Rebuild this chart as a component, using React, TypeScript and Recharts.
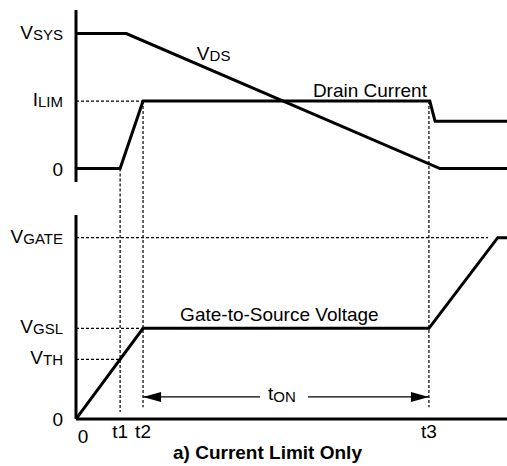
import React from 'react';
import {
  LineChart,
  Line,
  XAxis,
  YAxis,
  ReferenceLine,
  ReferenceDot,
} from 'recharts';

// time axis (arbitrary units, t3 = 80)
const X_MAX = 97.7;
const T1 = 10;
const T2 = 15.2;
const T3 = 80;
const timeTicks = [0, T1, T2, T3];
const timeTickNames = ['0', 't1', 't2', 't3'];

// top panel levels
const topTicks = [0, 1, 2];
const topTickNames = [
  ['0', ''],
  ['I', 'LIM'],
  ['V', 'SYS'],
];

// bottom panel levels
const V_TH = 0.657;
const gateTicks = [0, V_TH, 1, 2];
const gateTickNames = [
  ['0', ''],
  ['V', 'TH'],
  ['V', 'GSL'],
  ['V', 'GATE'],
];

// series
const vdsTime = [0, 11.4, 82.5, X_MAX];
const vdsValue = [2, 2, 0, 0];
const drainTime = [0, T1, T2, 80.2, 81.4, X_MAX];
const drainValue = [0, 0, 1, 1, 0.7, 0.7];
const gateTime = [0, T2, T3, 95.6, X_MAX];
const gateValue = [0, 1, 1, 2, 2];

const zip = (t: number[], v: number[]) => t.map((x, i) => ({ t: x, v: v[i] }));

const vdsData = zip(vdsTime, vdsValue);
const drainData = zip(drainTime, drainValue);
const gateData = zip(gateTime, gateValue);

const FONT = '"Liberation Sans", Arial, Helvetica, sans-serif';
const INK = '#000';

const dashed = {
  stroke: INK,
  strokeWidth: 1.2,
  strokeDasharray: '3 2',
  ifOverflow: 'visible' as const,
};

// y tick with subscript
const makeLevelTick = (ticks: number[], names: string[][]) => (props: any) => {
  const { x, y, payload } = props;
  const idx = ticks.indexOf(payload.value);
  const [main, sub] = names[idx] || [String(payload.value), ''];
  return (
    <text
      x={x}
      y={y + (sub ? 5 : 7)}
      textAnchor="end"
      fontFamily={FONT}
      fontSize={19}
      fill={INK}
    >
      <tspan>{main}</tspan>
      {sub && (
        <tspan fontSize={15} dy={1}>
          {sub}
        </tspan>
      )}
    </text>
  );
};

const TimeTick = (props: any) => {
  const { x, y, payload } = props;
  const idx = timeTicks.indexOf(payload.value);
  const isZero = payload.value === 0;
  return (
    <text
      x={x + (isZero ? 7 : 0)}
      y={y + (isZero ? 22 : 17)}
      textAnchor="middle"
      fontFamily={FONT}
      fontSize={19}
      fill={INK}
    >
      {timeTickNames[idx]}
    </text>
  );
};

const TonArrow = (props: any) => {
  const { x1, y1, x2 } = props;
  const mid = (x1 + x2) / 2;
  return (
    <g>
      <line x1={x1} y1={y1} x2={mid - 26} y2={y1} stroke={INK} strokeWidth={1.3} />
      <line x1={mid + 22} y1={y1} x2={x2} y2={y1} stroke={INK} strokeWidth={1.3} />
      <polygon points={`${x1},${y1} ${x1 + 18},${y1 - 5} ${x1 + 18},${y1 + 5}`} fill={INK} />
      <polygon points={`${x2},${y1} ${x2 - 18},${y1 - 5} ${x2 - 18},${y1 + 5}`} fill={INK} />
      <text x={mid - 18} y={y1 + 3} fontFamily={FONT} fontSize={19} fill={INK}>
        <tspan>t</tspan>
        <tspan fontSize={15} dy={2}>
          ON
        </tspan>
      </text>
    </g>
  );
};

const textMark = (label: string, sub?: string) => (p: any) => (
  <text x={p.cx} y={p.cy} fontFamily={FONT} fontSize={19} fill={INK}>
    <tspan>{label}</tspan>
    {sub && (
      <tspan fontSize={15} dy={1}>
        {sub}
      </tspan>
    )}
  </text>
);

export default function App() {
  return (
    <div
      style={{
        position: 'absolute',
        left: 0,
        top: 0,
        width: 507,
        height: 466,
        background: '#fff',
        fontFamily: FONT,
      }}
    >
      {/* top: VDS and drain current */}
      <div style={{ position: 'absolute', left: 0, top: 0 }}>
        <LineChart
          width={507}
          height={200}
          margin={{ top: 10, right: 0, bottom: 18, left: 0 }}
        >
          <XAxis dataKey="t" type="number" domain={[0, X_MAX]} hide allowDataOverflow />
          <YAxis
            type="number"
            domain={[-0.2, 2.35]}
            ticks={topTicks}
            interval={0}
            width={76}
            allowDataOverflow
            axisLine={{ stroke: INK, strokeWidth: 3 }}
            tickLine={false}
            tickSize={0}
            tickMargin={13}
            tick={makeLevelTick(topTicks, topTickNames)}
          />
          <ReferenceLine segment={[{ x: 0, y: 1 }, { x: T2, y: 1 }]} {...dashed} />
          <ReferenceLine segment={[{ x: T1, y: 0 }, { x: T1, y: -0.47 }]} {...dashed} />
          <ReferenceLine segment={[{ x: T2, y: 1 }, { x: T2, y: -0.47 }]} {...dashed} />
          <ReferenceLine segment={[{ x: T3, y: 1 }, { x: T3, y: -0.47 }]} {...dashed} />
          <Line
            data={vdsData}
            dataKey="v"
            type="linear"
            stroke={INK}
            strokeWidth={3}
            dot={false}
            isAnimationActive={false}
          />
          <Line
            data={drainData}
            dataKey="v"
            type="linear"
            stroke={INK}
            strokeWidth={3}
            dot={false}
            isAnimationActive={false}
          />
          <ReferenceDot x={27.4} y={1.61} r={0} shape={textMark('V', 'DS')} />
          <ReferenceDot x={53.7} y={1.06} r={0} shape={textMark('Drain Current')} />
        </LineChart>
      </div>

      {/* bottom: gate-to-source voltage */}
      <div style={{ position: 'absolute', left: 0, top: 200 }}>
        <LineChart
          width={507}
          height={266}
          margin={{ top: 15, right: 0, bottom: 17, left: 0 }}
        >
          <XAxis
            dataKey="t"
            type="number"
            domain={[0, X_MAX]}
            ticks={timeTicks}
            interval={0}
            height={30}
            allowDataOverflow
            axisLine={{ stroke: INK, strokeWidth: 3 }}
            tickLine={false}
            tickSize={0}
            tick={TimeTick}
          />
          <YAxis
            type="number"
            domain={[0, 2.25]}
            ticks={gateTicks}
            interval={0}
            width={76}
            allowDataOverflow
            axisLine={{ stroke: INK, strokeWidth: 3 }}
            tickLine={false}
            tickSize={0}
            tickMargin={13}
            tick={makeLevelTick(gateTicks, gateTickNames)}
          />
          <ReferenceLine segment={[{ x: 0, y: 2 }, { x: 93.4, y: 2 }]} {...dashed} />
          <ReferenceLine segment={[{ x: 0, y: 1 }, { x: T2, y: 1 }]} {...dashed} />
          <ReferenceLine segment={[{ x: 0, y: V_TH }, { x: T1, y: V_TH }]} {...dashed} />
          <ReferenceLine segment={[{ x: T1, y: 2.415 }, { x: T1, y: 0.077 }]} {...dashed} />
          <ReferenceLine segment={[{ x: T2, y: 2.415 }, { x: T2, y: 0.13 }]} {...dashed} />
          <ReferenceLine segment={[{ x: T3, y: 2.415 }, { x: T3, y: 0.13 }]} {...dashed} />
          <ReferenceLine
            segment={[{ x: T2, y: 0.243 }, { x: T3, y: 0.243 }]}
            ifOverflow="visible"
            shape={TonArrow}
          />
          <Line
            data={gateData}
            dataKey="v"
            type="linear"
            stroke={INK}
            strokeWidth={3}
            dot={false}
            isAnimationActive={false}
          />
          <ReferenceDot x={23.6} y={1.08} r={0} shape={textMark('Gate-to-Source Voltage')} />
        </LineChart>
      </div>

      <div
        style={{
          position: 'absolute',
          left: 173,
          top: 442,
          fontWeight: 'bold',
          fontSize: 19,
          color: INK,
          whiteSpace: 'nowrap',
        }}
      >
        a) Current Limit Only
      </div>
    </div>
  );
}
